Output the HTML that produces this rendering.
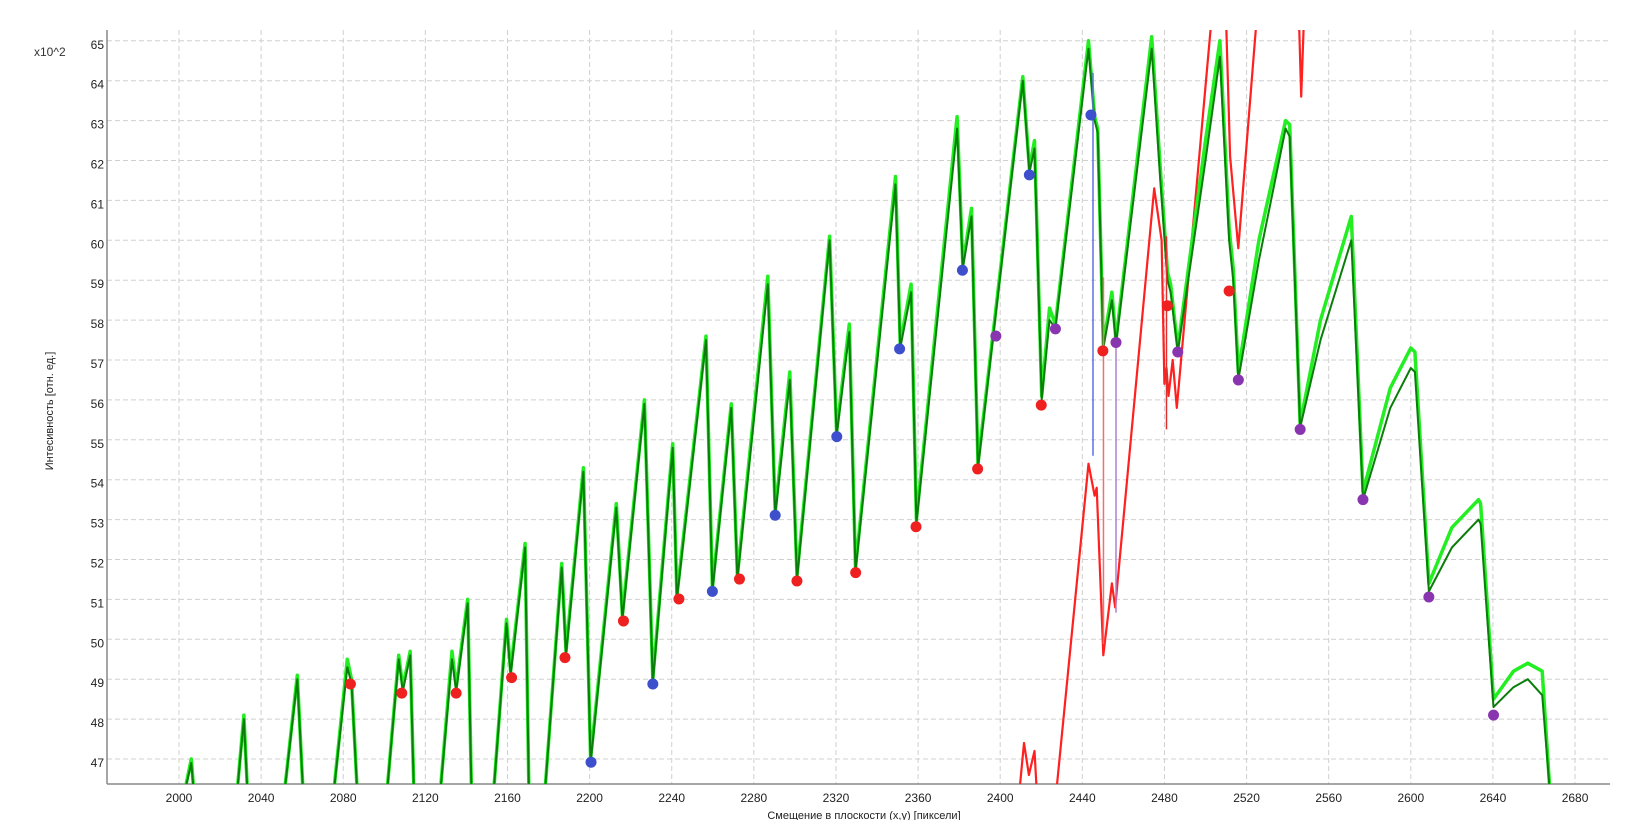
<!DOCTYPE html>
<html><head><meta charset="utf-8"><style>
body{margin:0;background:#fff;}
svg{display:block;font-family:"Liberation Sans",sans-serif;}
</style></head><body>
<svg id="chart" width="1642" height="820" viewBox="0 0 1642 820" xmlns="http://www.w3.org/2000/svg">
<defs><clipPath id="plotclip"><rect x="107" y="30" width="1503" height="754"/></clipPath></defs>
<g id="grid"></g>
<g id="axes"></g>
<g id="series" clip-path="url(#plotclip)"></g>
<text x="34" y="56" font-size="12" fill="#333">x10^2</text>
<text transform="translate(53,411) rotate(-90)" text-anchor="middle" font-size="11" fill="#222">Интесивность [отн. ед.]</text>
<text x="864" y="819" text-anchor="middle" font-size="11" fill="#222">Смещение в плоскости (x,y) [пиксели]</text>
</svg>
<script>
const xTicks=[2000,2040,2080,2120,2160,2200,2240,2280,2320,2360,2400,2440,2480,2520,2560,2600,2640,2680];
const yTicks=[47,48,49,50,51,52,53,54,55,56,57,58,59,60,61,62,63,64,65];
const curveX=[2002,2006,2007.5,2028,2031.6,2033.5,2051,2057.6,2060.6,2075,2082,2084,2087,2101,2107,2109,2112.6,2114.5,2127,2133,2135,2140.6,2142.5,2153,2159.5,2161.5,2168.6,2170.5,2178,2186.4,2188.5,2197,2200.5,2213,2216,2226.7,2230.8,2240.5,2242.5,2256.7,2259.8,2269,2272,2286.8,2290.4,2297.5,2301,2316.9,2320.3,2326.5,2329.5,2349,2351.3,2356.6,2359.2,2379,2381.8,2386,2389.2,2411,2414.2,2416.7,2420.2,2424,2426.9,2443,2446,2447.5,2450.2,2454.4,2456.4,2473.8,2478,2481.5,2483,2486.5,2500,2507,2511.5,2513.5,2516,2526,2539,2541,2546.1,2556,2571,2576.7,2590,2600,2602,2608.8,2620,2633,2634,2640.3,2650,2657,2664,2668];
const darkVals=[46.0,46.9,46.0,46.0,48.0,46.0,46.0,49.0,46.0,46.0,49.3,48.9,46.0,46.0,49.5,48.7,49.6,46.0,46.0,49.5,48.7,50.9,46.0,46.0,50.4,49.1,52.3,46.0,46.0,51.8,49.6,54.2,46.9,53.3,50.5,55.9,48.9,54.8,51.0,57.5,51.2,55.8,51.5,58.9,53.1,56.5,51.5,60.0,55.1,57.7,51.7,61.4,57.3,58.7,52.9,62.8,59.3,60.6,54.3,64.0,61.7,62.3,56.0,58.0,57.8,64.8,63.0,62.7,57.3,58.5,57.4,64.8,61.5,59.0,58.7,57.2,62.0,64.6,60.0,59.0,56.5,59.5,62.8,62.6,55.3,57.5,60.0,53.5,55.8,56.8,56.7,51.2,52.3,53.0,52.9,48.3,48.8,49.0,48.6,46.0];
const lightVals=[46.0,47.0,46.0,46.0,48.1,46.0,46.0,49.1,46.0,46.0,49.5,49.0,46.0,46.0,49.6,48.8,49.7,46.0,46.0,49.7,48.8,51.0,46.0,46.0,50.5,49.2,52.4,46.0,46.0,51.9,49.7,54.3,47.0,53.4,50.6,56.0,49.0,54.9,51.1,57.6,51.3,55.9,51.6,59.1,53.2,56.7,51.6,60.1,55.2,57.9,51.8,61.6,57.4,58.9,53.0,63.1,59.4,60.8,54.4,64.1,61.8,62.5,56.1,58.3,57.9,65.0,63.1,62.8,57.4,58.7,57.5,65.1,61.8,59.2,58.9,57.3,62.5,65.0,60.3,59.3,56.7,60.0,63.0,62.9,55.4,58.0,60.6,53.7,56.3,57.3,57.2,51.4,52.8,53.5,53.4,48.5,49.2,49.4,49.2,46.0];
const redX=[2409,2411.6,2414,2416.7,2418,2427,2443,2446,2447,2450.2,2454.4,2456,2475,2478.6,2480,2481,2482,2484,2486,2503,2510,2512,2516,2525,2545.5,2546.6,2548];
const redVals=[46.0,47.4,46.6,47.2,46.0,46.0,54.4,53.6,53.8,49.6,51.4,50.8,61.3,60.0,56.4,56.8,56.1,57.0,55.8,65.6,65.6,62.1,59.8,65.6,65.6,63.6,65.6];
const redDotX=[2083.5,2108.5,2135,2162,2188,2216.5,2243.5,2273,2301,2329.6,2359,2389,2420,2450,2481.4,2511.5];
const redDotV=[48.88,48.65,48.65,49.04,49.54,50.46,51.01,51.51,51.46,51.67,52.82,54.27,55.87,57.23,58.36,58.73];
const blueDotX=[2200.7,2230.8,2259.8,2290.4,2320.4,2351,2381.6,2414.2,2444.2];
const blueDotV=[46.92,48.88,51.2,53.11,55.08,57.28,59.25,61.64,63.14];
const purpleDotX=[2397.9,2426.9,2456.4,2486.5,2516,2546.1,2576.7,2608.8,2640.3];
const purpleDotV=[57.6,57.78,57.44,57.2,56.5,55.26,53.5,51.06,48.1];
const vlineX=[2445.2,2450.3,2456.4,2481];
const vlineTop=[64.2,59.07,57.5,60.1];
const vlineBottom=[54.6,49.88,50.67,55.26];
const vlineColors=["#6070e0","#f07070","#b080d0","#e03030"];

const NS="http://www.w3.org/2000/svg";
function X(d){return 179+(d-2000)*2.053;}
function Y(v){return 759-(v-47)*39.9;}
function mk(tag,attrs,parent){const e=document.createElementNS(NS,tag);for(const k in attrs)e.setAttribute(k,attrs[k]);parent.appendChild(e);return e;}
const grid=document.getElementById('grid'),axes=document.getElementById('axes'),series=document.getElementById('series');
xTicks.forEach(t=>{
  const l=mk('line',{x1:X(t),x2:X(t),y1:30,y2:784,stroke:'#d0d0d0','stroke-dasharray':'5,3'},grid);
  
  
  const tx=mk('text',{x:X(t),y:802,'text-anchor':'middle','font-size':'12',fill:'#222'},axes);
  tx.textContent=t;
  
  
});
yTicks.forEach(t=>{
  const l=mk('line',{x1:107,x2:1610,y1:Y(t),y2:Y(t),stroke:'#d0d0d0','stroke-dasharray':'5,3'},grid);
  
  
  const tx=mk('text',{x:104,y:Y(t)+8,'text-anchor':'end','font-size':'12',fill:'#222'},axes);
  tx.textContent=t;
  
  
});
const ya=mk('line',{x1:107,x2:107,y1:30,y2:784,stroke:'#888','stroke-width':1.5},axes);


const xa=mk('line',{x1:107,x2:1610,y1:784,y2:784,stroke:'#888','stroke-width':1.5},axes);


function pts(xs,vs){return xs.map((d,i)=>X(d).toFixed(1)+','+Y(vs[i]).toFixed(1)).join(' ');}
const red=mk('polyline',{points:pts(redX,redVals),fill:'none',stroke:'#ff2020','stroke-width':2.2,'stroke-linejoin':'round'},series);


const lg=mk('polyline',{points:pts(curveX,lightVals),fill:'none',stroke:'#22ee22','stroke-width':3.5,'stroke-linejoin':'round'},series);


const dg=mk('polyline',{points:pts(curveX,darkVals),fill:'none',stroke:'#0b7d0b','stroke-width':2,'stroke-linejoin':'round'},series);


vlineX.forEach((d,i)=>{
  const l=mk('line',{x1:X(d),x2:X(d),y1:Y(vlineTop[i]),y2:Y(vlineBottom[i]),stroke:vlineColors[i],'stroke-width':1.5},series);
  
  
});
function dots(xs,vs,color,name){xs.forEach((d,i)=>{
  const c=mk('circle',{cx:X(d),cy:Y(vs[i]),r:5.5,fill:color},series);
  
  
});}
dots(redDotX,redDotV,'#ee2020','red-point');
dots(blueDotX,blueDotV,'#3d4fcc','blue-point');
dots(purpleDotX,purpleDotV,'#8a35b0','purple-point');
</script>
</body></html>
